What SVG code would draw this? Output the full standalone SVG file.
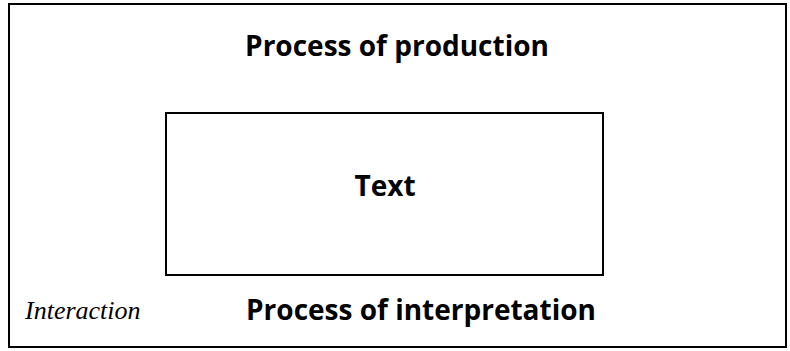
<svg xmlns="http://www.w3.org/2000/svg" width="790" height="351" viewBox="0 0 790 351">
<style>
.box{fill:none;stroke:#000;stroke-width:2}
.b{font-family:"Open Sans","Liberation Sans",sans-serif;font-weight:bold;font-size:28px;fill:#000}
.i{font-family:"Liberation Serif",serif;font-style:italic;font-size:26px;fill:#000}
</style>
<rect width="790" height="351" fill="#fff"/>
<g id="frame">
<rect class="box" x="9" y="4" width="777" height="343"/>
<text class="b" x="397" y="56" text-anchor="middle">Process of production</text>
</g>
<g id="text-node">
<rect class="box" x="166" y="113" width="437" height="162"/>
<text class="b" x="385" y="196" text-anchor="middle">Text</text>
</g>
<g id="interaction">
<text class="i" x="25" y="319">Interaction</text>
<text class="b" x="246" y="320">Process of interpretation</text>
</g>
<g id="connectors"></g>
</svg>
